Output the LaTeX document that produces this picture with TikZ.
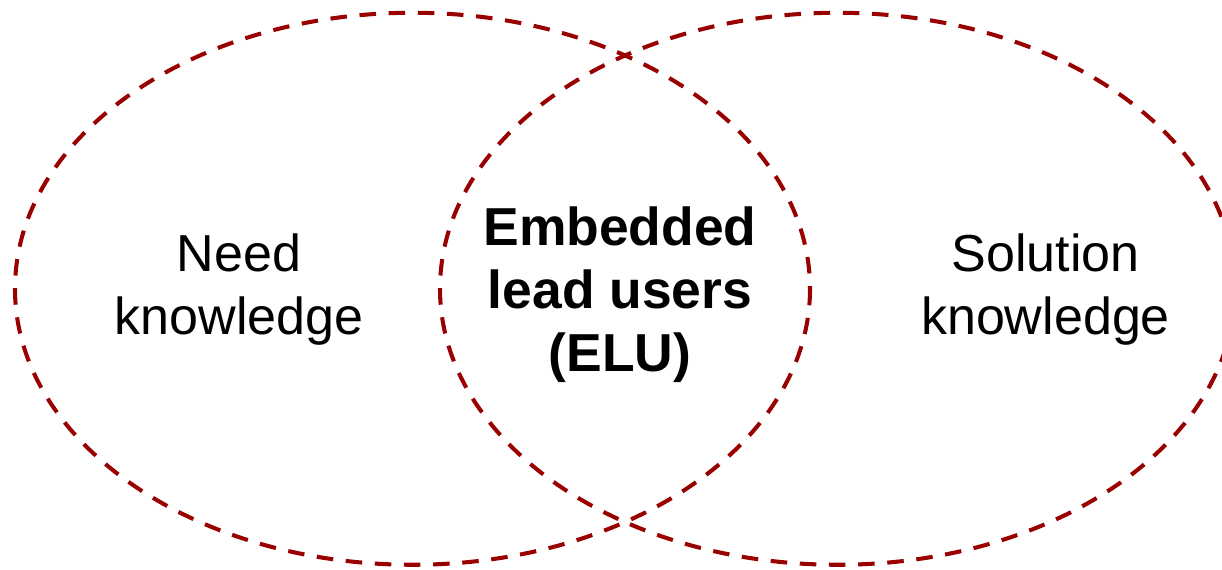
\documentclass[tikz,border=0pt]{standalone}
\usepackage{fontspec}
\setmainfont{Liberation Sans}
\definecolor{venred}{RGB}{153,0,0}

\begin{document}
\begin{tikzpicture}[x=0.01cm,y=-0.01cm,
    venn/.style={draw=venred,line width=1.15pt,dash pattern=on 4.7pt off 3.6pt},
    txt/.style={align=center,font=\fontsize{14.8}{17.9}\selectfont,inner sep=0pt},
    btxt/.style={txt,font=\fontsize{15.2}{17.9}\selectfont\bfseries}]
    \useasboundingbox (0,0) rectangle (1222,569);
    \clip (0,0) rectangle (1222,569);
    \draw[venn] (412.5,288.75) ellipse [x radius=397.5,y radius=276];
    \draw[venn] (837.5,288.75) ellipse [x radius=397.5,y radius=276];
    \node[txt] (need) at (239,290) {Need\\knowledge};
    \node[btxt] (elu) at (620,295) {Embedded\\lead users\\(ELU)};
    \node[txt] (sol) at (1045.5,290) {Solution\\knowledge};
\end{tikzpicture}
\end{document}
